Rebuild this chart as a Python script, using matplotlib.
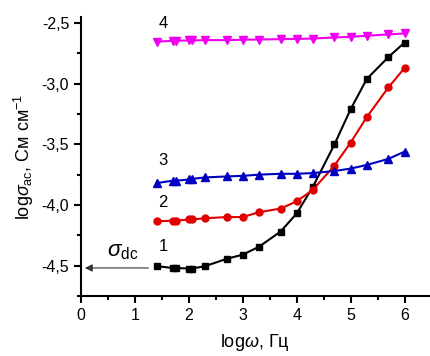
import numpy as np
import matplotlib.pyplot as plt
from matplotlib.ticker import MultipleLocator, FuncFormatter

plt.rcParams['font.family'] = ['Liberation Sans', 'DejaVu Sans']
plt.rcParams['mathtext.fontset'] = 'custom'
plt.rcParams['mathtext.it'] = 'Liberation Sans:italic'
plt.rcParams['mathtext.rm'] = 'Liberation Sans'

# log(omega) points, same for all curves
log_w = [1.4, 1.7, 1.76, 2.0, 2.06, 2.3, 2.7, 3.0, 3.3, 3.7, 4.0, 4.3, 4.7, 5.0, 5.3, 5.7, 6.0]

s1 = [-4.505, -4.52, -4.52, -4.525, -4.525, -4.505, -4.445, -4.41, -4.345, -4.22,
      -4.07, -3.85, -3.50, -3.21, -2.96, -2.78, -2.66]
s2 = [-4.135, -4.13, -4.13, -4.12, -4.12, -4.11, -4.10, -4.10, -4.06, -4.03,
      -3.97, -3.875, -3.675, -3.485, -3.275, -3.03, -2.87]
s3 = [-3.82, -3.80, -3.80, -3.79, -3.785, -3.773, -3.765, -3.76, -3.75, -3.743,
      -3.743, -3.737, -3.72, -3.70, -3.67, -3.62, -3.56]
s4 = [-2.654, -2.645, -2.645, -2.643, -2.643, -2.64, -2.64, -2.637, -2.635, -2.632,
      -2.63, -2.627, -2.618, -2.613, -2.604, -2.593, -2.585]

sigma_dc = -4.52
curve_labels = ['1', '2', '3', '4']
label_y = [-4.34, -3.98, -3.63, -2.50]


def plot_chart():
    fig = plt.figure(figsize=(4.31, 3.56), dpi=100)
    ax = fig.add_axes([0.188, 0.169, 0.807, 0.783])

    ax.plot(log_w, s1, color='black', linewidth=1.5, marker='s', markersize=4.5)
    ax.plot(log_w, s2, color='#E00000', linewidth=1.5, marker='o', markersize=5)
    ax.plot(log_w, s3, color='#0000C0', linewidth=1.5, marker='^', markersize=5.5)
    ax.plot(log_w, s4, color='#F000F0', linewidth=1.5, marker='v', markersize=5.5)

    for lab, y in zip(curve_labels, label_y):
        ax.text(1.52, y, lab, fontsize=12, ha='center', va='center')

    # sigma_dc arrow
    ax.annotate('', xy=(0.02, sigma_dc), xytext=(1.3, sigma_dc),
                arrowprops=dict(arrowstyle='-|>', color='#333333', lw=0.8,
                                mutation_scale=11))
    ax.text(0.78, -4.385, r'$\sigma_{\mathrm{dc}}$', fontsize=16, ha='center', va='center')

    ax.set_xlim(0, 6.45)
    ax.set_ylim(-4.75, -2.45)
    ax.xaxis.set_major_locator(MultipleLocator(1))
    ax.xaxis.set_minor_locator(MultipleLocator(0.5))
    ax.yaxis.set_major_locator(MultipleLocator(0.5))
    ax.yaxis.set_minor_locator(MultipleLocator(0.25))
    ax.yaxis.set_major_formatter(FuncFormatter(lambda v, p: ('%.1f' % v).replace('.', ',')))

    for s in ['top', 'right']:
        ax.spines[s].set_visible(False)
    for s in ['left', 'bottom']:
        ax.spines[s].set_linewidth(1.5)
    ax.tick_params(which='major', direction='out', length=5, width=1.5, labelsize=11.5)
    ax.tick_params(which='minor', direction='out', length=3, width=1.5)

    ax.set_xlabel(r'log$\omega$, Гц', fontsize=13, labelpad=7)
    ax.set_ylabel(r'log$\sigma_{\mathrm{ac}}$, См см$^{\mathrm{-1}}$', fontsize=13, labelpad=4)

    plt.savefig('out.png', dpi=100)


if __name__ == '__main__':
    plot_chart()
